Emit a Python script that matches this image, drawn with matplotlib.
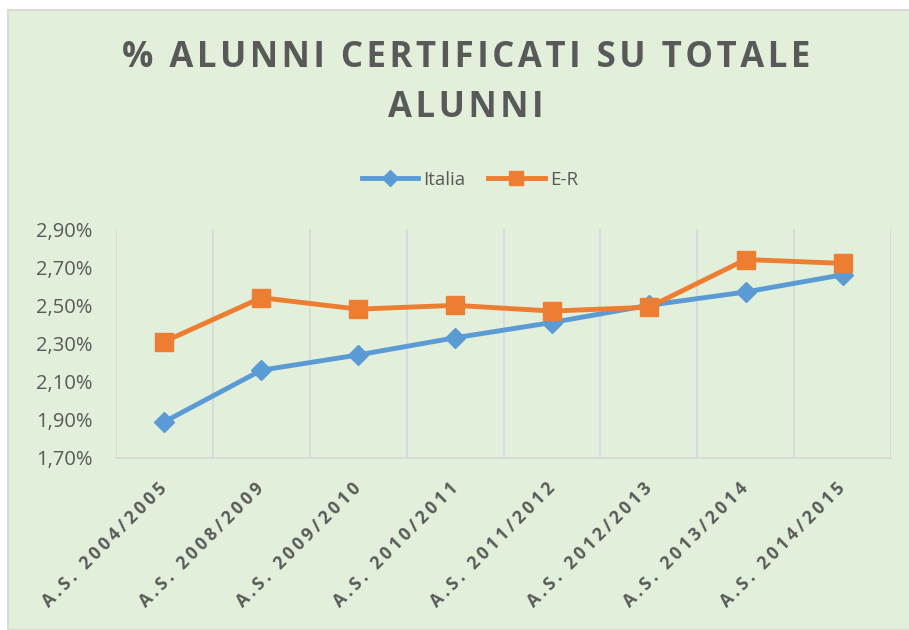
import matplotlib.pyplot as plt
from matplotlib.patches import Rectangle
from matplotlib.ticker import FuncFormatter

# dati
anni = ["A.S. 2004/2005", "A.S. 2008/2009", "A.S. 2009/2010", "A.S. 2010/2011",
        "A.S. 2011/2012", "A.S. 2012/2013", "A.S. 2013/2014", "A.S. 2014/2015"]
italia = [1.89, 2.16, 2.24, 2.33, 2.41, 2.50, 2.57, 2.66]
emilia = [2.31, 2.54, 2.48, 2.50, 2.47, 2.49, 2.74, 2.72]

bg = "#E2EFDA"
grigio = "#595959"
plt.rcParams['font.family'] = ['Open Sans', 'DejaVu Sans']


def spaziato(s, sep):
    return sep.join(s)


fig = plt.figure(figsize=(9.09, 6.30), dpi=100)
fig.patch.set_facecolor("white")
fig.patches.append(Rectangle((8/909, 0), 1, 620/630, transform=fig.transFigure,
                             facecolor=bg, edgecolor="#D9D9D9", lw=1.5, zorder=-1))

ax = fig.add_axes([116/909, 1-458/630, (891-116)/909, (458-229)/630])
ax.set_facecolor(bg)

x = list(range(len(anni)))
ax.plot(x, italia, color="#5B9BD5", lw=3.5, marker="D", ms=10, label="Italia", zorder=3)
ax.plot(x, emilia, color="#ED7D31", lw=3.5, marker="s", ms=13, label="E-R", zorder=4)

ax.set_xlim(-0.5, len(anni) - 0.5)
ax.set_ylim(1.70, 2.90)
ax.set_yticks([1.70, 1.90, 2.10, 2.30, 2.50, 2.70, 2.90])
ax.yaxis.set_major_formatter(FuncFormatter(lambda v, p: f"{v:.2f}%".replace(".", ",")))

# griglia verticale sui confini delle categorie
for b in [i - 0.5 for i in range(len(anni) + 1)]:
    ax.axvline(b, color="#D9D9D9", lw=1.3, zorder=1)
ax.set_xticks(x)
ax.set_xticklabels([spaziato(a, "\u2009") for a in anni], rotation=45, ha="right",
                   va="center", rotation_mode="anchor",
                   fontsize=12.5, fontweight="bold", color=grigio)
ax.tick_params(axis="x", length=0, pad=20)
ax.tick_params(axis="y", length=0, pad=17, labelsize=14.5, labelcolor=grigio)

for s in ["top", "right", "left"]:
    ax.spines[s].set_visible(False)
ax.spines["bottom"].set_color("#D9D9D9")
ax.spines["bottom"].set_linewidth(1.3)

fig.text(466/909, 1 - 58/630, spaziato("% ALUNNI CERTIFICATI SU TOTALE", "\u200a"),
         ha="center", va="center", fontsize=25, fontweight="bold", color=grigio)
fig.text(466/909, 1 - 108/630, spaziato("ALUNNI", "\u200a"),
         ha="center", va="center", fontsize=25, fontweight="bold", color=grigio)

ax.legend(loc="center", bbox_to_anchor=(470/909, 1 - 180/630), bbox_transform=fig.transFigure,
          ncol=2, frameon=False, fontsize=13.5, labelcolor=grigio, handlelength=3.0,
          columnspacing=1.2, handletextpad=0.3, markerscale=0.8)

fig.savefig("out.png", dpi=100, facecolor=fig.get_facecolor())
